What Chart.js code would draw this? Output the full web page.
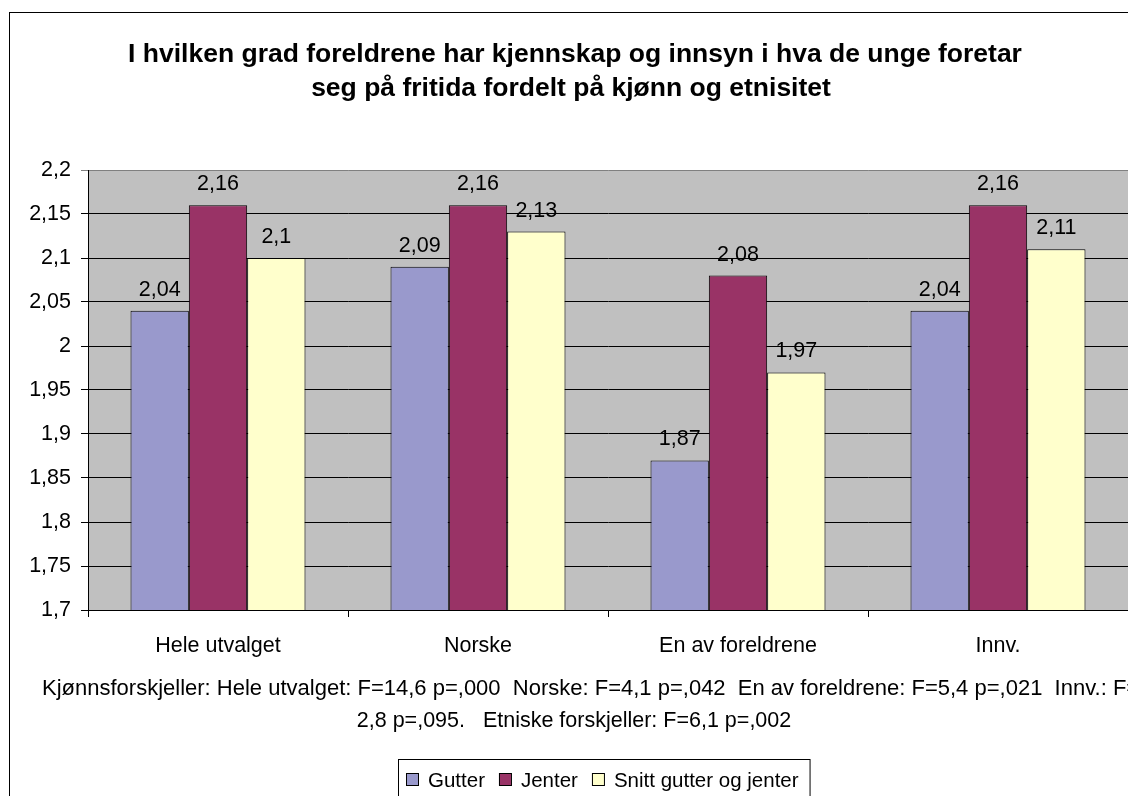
<!DOCTYPE html>
<html>
<head>
<meta charset="utf-8">
<script src="https://cdn.jsdelivr.net/npm/chart.js@4.4.1/dist/chart.umd.min.js"></script>
<style>
  html, body { margin: 0; padding: 0; background: #fff; overflow: hidden; }
  #wrap { position: absolute; left: 0; top: 0; width: 1128px; height: 796px; }
</style>
</head>
<body>
<div id="wrap"><canvas id="c" width="1128" height="796"></canvas></div>
<script>
const categories = ['Hele utvalget', 'Norske', 'En av foreldrene', 'Innv.'];
const gutter = [2.04, 2.09, 1.87, 2.04];
const jenter = [2.16, 2.16, 2.08, 2.16];
const snitt = [2.10, 2.13, 1.97, 2.11];
const seriesNames = ['Gutter', 'Jenter', 'Snitt gutter og jenter'];
const titleLines = [
  'I hvilken grad foreldrene har kjennskap og innsyn i hva de unge foretar',
  'seg på fritida fordelt på kjønn og etnisitet'
];
const noteLines = [
  'Kjønnsforskjeller: Hele utvalget: F=14,6 p=,000  Norske: F=4,1 p=,042  En av foreldrene: F=5,4 p=,021  Innv.: F=',
  '2,8 p=,095.   Etniske forskjeller: F=6,1 p=,002'
];
const yMin = 1.7, yMax = 2.2, yStep = 0.05;

const FONT = '"Liberation Sans", Arial, sans-serif';
const fmt = v => {
  let s = (Math.round(v * 100) / 100).toFixed(2);
  s = s.replace(/0+$/, '').replace(/\.$/, '');
  return s.replace('.', ',');
};

const decor = {
  id: 'decor',
  beforeDraw(chart) {
    const ctx = chart.ctx;
    ctx.save();
    ctx.fillStyle = '#fff';
    ctx.fillRect(0, 0, chart.width, chart.height);
    ctx.strokeStyle = '#000';
    ctx.lineWidth = 1;
    ctx.strokeRect(9.5, 12.5, 1300, 1000);
    const a = chart.chartArea;
    ctx.fillStyle = '#C0C0C0';
    ctx.fillRect(a.left, a.top, a.right - a.left, a.bottom - a.top);
    ctx.restore();
  },
  afterDraw(chart) {
    const ctx = chart.ctx;
    ctx.save();
    ctx.fillStyle = '#000';
    // title
    ctx.font = 'bold 26.5px ' + FONT;
    ctx.textAlign = 'center';
    ctx.textBaseline = 'alphabetic';
    ctx.fillText(titleLines[0], 575, 62);
    ctx.fillText(titleLines[1], 571, 96);
    // footnote
    ctx.font = '22px ' + FONT;
    ctx.textAlign = 'left';
    ctx.fillText(noteLines[0], 42, 695);
    ctx.font = '21.5px ' + FONT;
    ctx.textAlign = 'center';
    ctx.fillText(noteLines[1], 574, 727);
    ctx.textAlign = 'left';
    // legend
    const ds = chart.data.datasets;
    ctx.font = '20.5px ' + FONT;
    let x = 406;
    const boxL = 398, boxT = 759;
    const items = [];
    ds.forEach(d => {
      items.push({x, d});
      x += 22 + ctx.measureText(d.label).width + 14;
    });
    const boxR = x - 14 + 11;
    ctx.fillStyle = '#fff';
    ctx.fillRect(boxL, boxT, boxR - boxL, 60);
    ctx.strokeStyle = '#000';
    ctx.lineWidth = 1;
    ctx.strokeRect(boxL + 0.5, boxT + 0.5, boxR - boxL, 60);
    items.forEach(it => {
      ctx.fillStyle = it.d.backgroundColor;
      ctx.fillRect(it.x, 773, 12, 12);
      ctx.strokeStyle = '#000';
      ctx.strokeRect(it.x + 0.5, 773.5, 12, 12);
      ctx.fillStyle = '#000';
      ctx.fillText(it.d.label, it.x + 22, 787);
    });
    ctx.restore();
  },
  afterDatasetsDraw(chart) {
    const ctx = chart.ctx;
    ctx.save();
    ctx.font = '21.5px ' + FONT;
    ctx.fillStyle = '#000';
    ctx.textAlign = 'center';
    ctx.textBaseline = 'alphabetic';
    chart.data.datasets.forEach((d, i) => {
      chart.getDatasetMeta(i).data.forEach((bar, j) => {
        ctx.fillText(fmt(d.data[j]), bar.x, bar.y - 15);
      });
    });
    ctx.restore();
  }
};

new Chart(document.getElementById('c'), {
  type: 'bar',
  data: {
    labels: categories,
    datasets: [
      { label: seriesNames[0], data: gutter, backgroundColor: '#9999CC' },
      { label: seriesNames[1], data: jenter, backgroundColor: '#993366' },
      { label: seriesNames[2], data: snitt, backgroundColor: '#FFFFCC' }
    ].map(d => Object.assign(d, {
      borderColor: '#000', borderWidth: 1, borderSkipped: false,
      categoryPercentage: 0.673, barPercentage: 1.0
    }))
  },
  options: {
    responsive: false,
    animation: false,
    devicePixelRatio: 1,
    layout: { padding: { top: 170, left: 0, right: 0, bottom: 126 } },
    plugins: {
      legend: { display: false },
      title: { display: false },
      tooltip: { enabled: false }
    },
    scales: {
      x: {
        grid: {
          drawOnChartArea: false, drawTicks: true, tickLength: 7,
          color: '#000', offset: true
        },
        border: { color: '#000', width: 1 },
        ticks: { color: '#000', font: { family: FONT, size: 21.5 }, padding: 16, maxRotation: 0, autoSkip: false },
        afterFit(s) { s.height = 60; }
      },
      y: {
        min: yMin, max: yMax,
        grid: {
          color: c => (c.tick && Math.abs(c.tick.value - yMax) < 1e-9) ? '#808080' : '#000',
          tickLength: 7, drawTicks: true
        },
        border: { color: '#000', width: 1 },
        ticks: {
          stepSize: yStep, color: '#000', padding: 10,
          font: { family: FONT, size: 21.5 },
          callback: v => fmt(v)
        },
        afterFit(s) { s.width = 88; }
      }
    }
  },
  plugins: [decor]
});
</script>
</body>
</html>
